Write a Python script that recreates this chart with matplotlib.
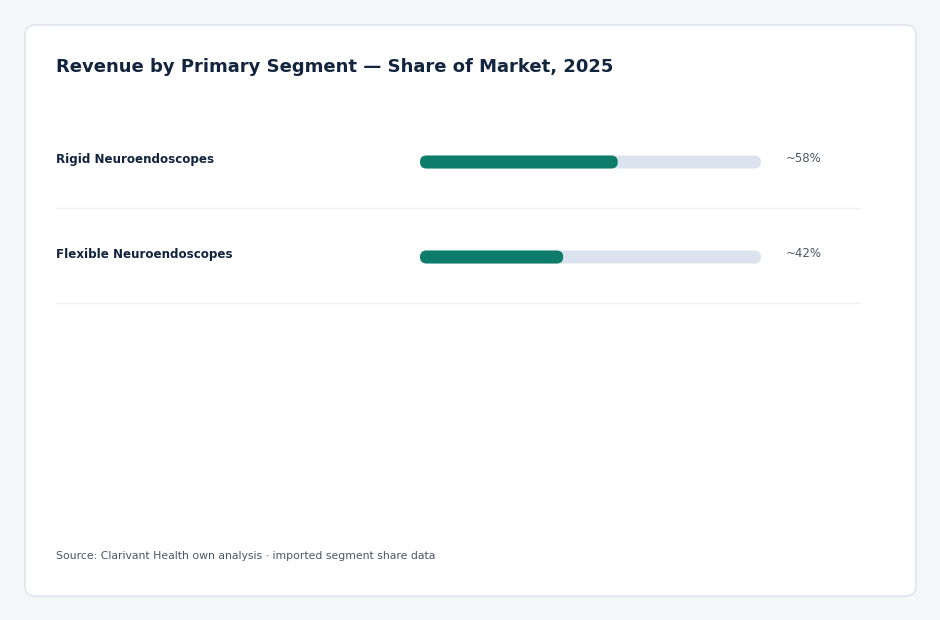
import matplotlib.pyplot as plt
from matplotlib.patches import FancyBboxPatch

# Chart data
segments = ['Rigid Neuroendoscopes', 'Flexible Neuroendoscopes']
shares = [58, 42]
share_labels = ['~58%', '~42%']
title = 'Revenue by Primary Segment \u2014 Share of Market, 2025'
source = 'Source: Clarivant Health own analysis \u00b7 imported segment share data'

W, H = 940, 620
navy = '#13243f'
teal = '#0e7c6b'
track = '#dbe4ee'

fig = plt.figure(figsize=(W / 100, H / 100), dpi=100)
fig.patch.set_facecolor('#f4f7fa')

# background axes in pixel coordinates for the card
bg = fig.add_axes([0, 0, 1, 1])
bg.set_xlim(0, W)
bg.set_ylim(H, 0)
bg.axis('off')
card = FancyBboxPatch((25, 25), 891, 571, boxstyle='round,pad=0,rounding_size=10',
                      facecolor='white', edgecolor='#dde2e8', linewidth=1)
bg.add_patch(card)

def px(x, y):
    return x / W, 1 - y / H

fig.text(*px(56, 72), title, fontsize=13, fontweight='bold', color=navy,
         va='baseline', ha='left')

# bar axes: x 420..761 px, rows centred at 162 and 257 px
row_gap = 95
bar_left, bar_w = 420, 341
top = 162 - row_gap / 2
bax = fig.add_axes([bar_left / W, 1 - (top + row_gap * len(segments)) / H,
                    bar_w / W, row_gap * len(segments) / H])
bax.set_xlim(0, 100)
bax.set_ylim(len(segments) - 0.5, -0.5)
bax.axis('off')

bar_h_px = 13
bar_h = bar_h_px / row_gap
radius = (bar_h_px / 2) / (bar_w / 100)
aspect = (bar_w / 100) / row_gap

for i, (name, val, lab) in enumerate(zip(segments, shares, share_labels)):
    bax.add_patch(FancyBboxPatch((0, i - bar_h / 2), 100, bar_h,
                                 boxstyle=f'round,pad=0,rounding_size={radius}',
                                 mutation_aspect=aspect, facecolor=track,
                                 edgecolor='none'))
    bax.add_patch(FancyBboxPatch((0, i - bar_h / 2), val, bar_h,
                                 boxstyle=f'round,pad=0,rounding_size={radius}',
                                 mutation_aspect=aspect, facecolor=teal,
                                 edgecolor='none'))
    base = 163 + i * row_gap
    fig.text(*px(56, base), name, fontsize=8.6, fontweight='bold', color=navy,
             va='baseline', ha='left')
    fig.text(*px(786, base - 1), lab, fontsize=8.5, color='#4a5563',
             va='baseline', ha='left')
    sep = 208 + i * row_gap
    bg.plot([56, 860], [sep, sep], color='#eef1f5', linewidth=1)

fig.text(*px(56, 559), source, fontsize=7.85, color='#4b5563',
         va='baseline', ha='left')

fig.savefig('out.png', dpi=100, facecolor=fig.get_facecolor())
